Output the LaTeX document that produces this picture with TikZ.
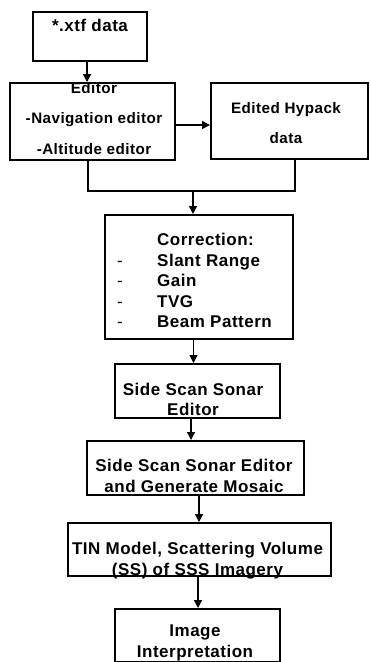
\documentclass[tikz,border=0pt]{standalone}
\usepackage{fontspec}
\setmainfont{Liberation Sans}[LetterSpace=3]
\usetikzlibrary{arrows.meta, calc}

\tikzset{
  box/.style={draw, line width=2pt, inner sep=0pt},
  txt/.style={font=\bfseries\fontsize{17}{20.5}\selectfont, align=center, inner sep=0pt},
  smalltxt/.style={font=\bfseries\fontsize{15.2}{30.5}\selectfont, align=center, inner sep=0pt},
  arr/.style={line width=1.3pt, -{Triangle[length=8pt,width=8pt]}},
  link/.style={line width=1.3pt}
}

\begin{document}
\begin{tikzpicture}[x=1pt, y=-1pt]
        \useasboundingbox (0,0) rectangle (370,662);
        \clip (0,0) rectangle (370,662);

        % Input data
        \node[box, minimum width=114pt, minimum height=49pt] (xtf) at (90,36.5) {};
        \node[txt] (xtftext) at (90,25) {*.xtf data};

        % Editors
        \node[box, minimum width=165pt, minimum height=77pt] (editor) at (92.5,121.5) {};
        \node[smalltxt] (editortext) at (94,118.5) {Editor\\-Navigation editor\\-Altitude editor};
        \node[box, minimum width=157pt, minimum height=76pt] (hypack) at (289.5,121) {};
        \node[smalltxt] (hypacktext) at (286,123) {Edited Hypack\\data};

        % Corrections
        \node[box, minimum width=188pt, minimum height=124pt] (corr) at (199,277) {};
        \node[txt, anchor=west] (corrtext) at (117,282.5) {%
          \begin{tabular}{@{}p{40pt}@{}l@{}}
             & Correction:\\
            {\mdseries -} & Slant Range\\
            {\mdseries -} & Gain\\
            {\mdseries -} & TVG\\
            {\mdseries -} & Beam Pattern
          \end{tabular}};

        % Processing chain
        \node[box, minimum width=165pt, minimum height=54pt] (sss) at (197.5,391) {};
        \node[txt] (ssstext) at (193,399.5) {Side Scan Sonar\\Editor};
        \node[box, minimum width=217pt, minimum height=54pt] (mosaic) at (195.5,468) {};
        \node[txt] (mosaictext) at (194,476) {Side Scan Sonar Editor\\and Generate Mosaic};
        \node[box, minimum width=263pt, minimum height=53pt] (tin) at (199.5,549.5) {};
        \node[txt] (tintext) at (197.5,560.5) {TIN Model, Scattering Volume\\(SS) of SSS Imagery};
        \node[box, minimum width=165pt, minimum height=53pt] (img) at (197.5,635.5) {};
        \node[txt] (imgtext) at (195,643) {Image\\Interpretation};

        % Connectors
        \draw[arr] ([xshift=-3pt]xtf.south) -- ([xshift=-3pt]xtf.south |- editor.north);
        \draw[arr] ([yshift=-3.5pt]editor.east) -- ([yshift=-3.5pt]editor.east -| hypack.west);
        \coordinate (join) at (193,191);
        \draw[link] ([xshift=-4.5pt]editor.south) |- (join) -| ([xshift=5.5pt]hypack.south);
        \draw[arr] (join) -- (join |- corr.north);
        \draw[arr] ([xshift=-5.5pt]corr.south) -- ([xshift=-5.5pt]corr.south |- sss.north);
        \draw[arr] ([xshift=-6.5pt]sss.south) -- ([xshift=-6.5pt]sss.south |- mosaic.north);
        \draw[arr] ([xshift=3.5pt]mosaic.south) -- ([xshift=3.5pt]mosaic.south |- tin.north);
        \draw[arr] ([xshift=-1.5pt]tin.south) -- ([xshift=-1.5pt]tin.south |- img.north);
    \end{tikzpicture}
\end{document}
